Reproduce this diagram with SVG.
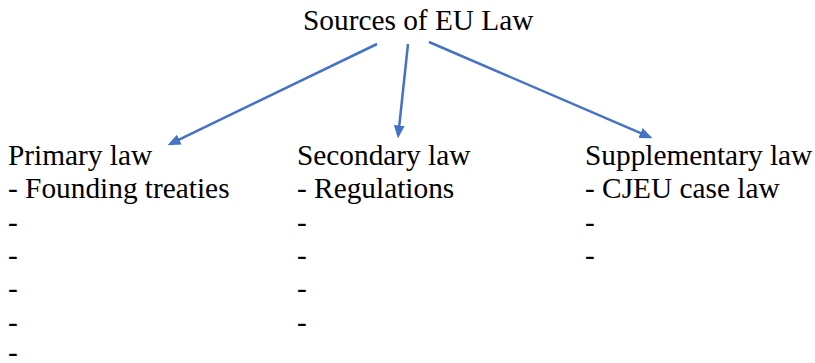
<svg xmlns="http://www.w3.org/2000/svg" width="815" height="363" viewBox="0 0 815 363">
<style>
text{font-family:"Liberation Serif","Times New Roman",Times,serif;font-size:29.33px;fill:#000}
.c{stroke:#4472C4;stroke-width:2.5;fill:none;marker-end:url(#ah)}
</style>
<defs>
<marker id="ah" markerUnits="userSpaceOnUse" markerWidth="13" markerHeight="11" refX="6" refY="5" orient="auto" viewBox="0 0 12 10">
<path d="M0,0 L12,5 L0,10 z" fill="#4472C4"/>
</marker>
</defs>
<rect width="815" height="363" fill="#fff"/>
<g id="root"><text x="303" y="30">Sources of EU Law</text></g>
<g id="connectors">
<line class="c" x1="377" y1="44" x2="173.4" y2="142.4"/>
<line class="c" x1="408" y1="44" x2="398.6" y2="132"/>
<line class="c" x1="429" y1="42" x2="646.5" y2="135.6"/>
</g>
<g id="primary">
<text x="8" y="165">Primary law</text>
<text x="8" y="198.3">- Founding treaties</text>
<text x="8" y="231.6">-</text>
<text x="8" y="265">-</text>
<text x="8" y="298.3">-</text>
<text x="8" y="331.6">-</text>
<text x="8" y="362">-</text>
</g>
<g id="secondary">
<text x="297" y="165">Secondary law</text>
<text x="297" y="198.3">- Regulations</text>
<text x="297" y="231.6">-</text>
<text x="297" y="265">-</text>
<text x="297" y="298.3">-</text>
<text x="297" y="331.6">-</text>
</g>
<g id="supplementary">
<text x="585" y="165">Supplementary law</text>
<text x="585" y="198.3">- CJEU case law</text>
<text x="585" y="231.6">-</text>
<text x="585" y="265">-</text>
</g>
</svg>
